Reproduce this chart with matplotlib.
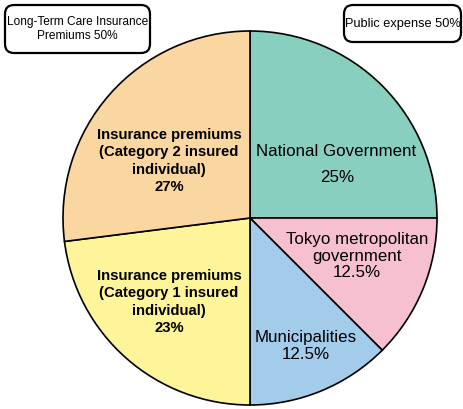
import matplotlib.pyplot as plt
from matplotlib.patches import FancyBboxPatch

plt.rcParams['font.family'] = ['Liberation Sans', 'DejaVu Sans']

# data
labels = ['National Government', 'Tokyo metropolitan government', 'Municipalities',
          'Insurance premiums (Category 1 insured individual)',
          'Insurance premiums (Category 2 insured individual)']
shares = [25, 12.5, 12.5, 23, 27]
colors = ['#88cfc0', '#f7c0d0', '#a3cbea', '#fef59a', '#fad7a0']

fig = plt.figure(figsize=(4.63, 4.09), dpi=100)
ax = fig.add_axes([0, 0, 1, 1])

ax.pie(shares, colors=colors, startangle=90, counterclock=False,
       center=(250, 191), radius=187, frame=True,
       wedgeprops=dict(edgecolor='black', linewidth=1.2))
ax.set_xlim(0, 463)
ax.set_ylim(0, 409)
ax.axis('off')

def ty(y):
    return 409 - y

ax.text(336, ty(152), 'National Government', ha='center', va='center', fontsize=12.2)
ax.text(337, ty(178), '25%', ha='center', va='center', fontsize=12.2)
ax.text(357, ty(256), 'Tokyo metropolitan\ngovernment\n12.5%', ha='center', va='center',
        fontsize=12.2, linespacing=1.15)
ax.text(306, ty(346), 'Municipalities\n12.5%', ha='center', va='center',
        fontsize=12.2, linespacing=1.15)
ax.text(169, ty(161), 'Insurance premiums\n(Category 2 insured\nindividual)\n27%',
        ha='center', va='center', fontsize=10.7, fontweight='bold', linespacing=1.3)
ax.text(169, ty(302), 'Insurance premiums\n(Category 1 insured\nindividual)\n23%',
        ha='center', va='center', fontsize=10.7, fontweight='bold', linespacing=1.3)

# boxes at top
for (x0, y0, x1, y1, txt, fs) in [(5, 5, 150, 53, 'Long-Term Care Insurance\nPremiums 50%', 8.6),
                                   (344, 5, 461, 42, 'Public expense 50%', 9.2)]:
    box = FancyBboxPatch((x0, ty(y1)), x1 - x0, y1 - y0,
                         boxstyle='round,pad=0,rounding_size=9',
                         facecolor='white', edgecolor='black', linewidth=1.6)
    ax.add_patch(box)
    ax.text((x0 + x1) / 2, ty((y0 + y1) / 2), txt, ha='center', va='center',
            fontsize=fs, linespacing=1.25)

fig.savefig('out.png', dpi=100)
